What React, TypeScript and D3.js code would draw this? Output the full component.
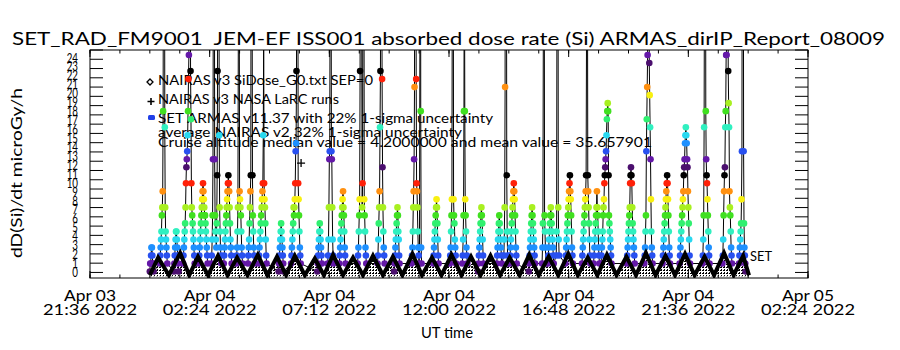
import * as d3 from 'd3';

// ---- chart data ----
const titleText = 'SET_RAD_FM9001  JEM-EF ISS001 absorbed dose rate (Si) ARMAS_dirIP_Report_08009';
const yAxisTitle = 'dD(Si)/dt microGy/h';
const xAxisTitle = 'UT time';

const xTickTimes = [
    '2022-04-03T21:36:00Z',
    '2022-04-04T02:24:00Z',
    '2022-04-04T07:12:00Z',
    '2022-04-04T12:00:00Z',
    '2022-04-04T16:48:00Z',
    '2022-04-04T21:36:00Z',
    '2022-04-05T02:24:00Z',
];
const yTickValues = [0, 1, 2, 3, 4, 5, 6, 7, 8, 9, 10, 11, 12, 13, 14, 15, 16, 17, 18, 19, 20, 21, 22, 23, 24];

const legendEntries = [
    'NAIRAS v3 SiDose_G0.txt SEP=0',
    'NAIRAS v3 NASA LaRC runs',
    'SET ARMAS v11.37 with 22% 1-sigma uncertainty',
    'average NAIRAS v2 32% 1-sigma uncertainty',
    'Cruise altitude median value = 4.2000000 and mean value = 35.657901',
];

// minutes after 2022-04-04 00:00 UT
const dataStart = '2022-04-04T00:00:00Z';

// NAIRAS v3 model: trough / peak vertices along the orbit
const nairasMinutes = [
    0, 20, 46, 73, 95, 116, 140, 164, 187, 210, 235, 260, 283, 306, 328, 349, 373, 397, 419, 441, 465,
    489, 513, 537, 561, 585, 608, 632, 655, 679, 702, 726, 750, 773, 796, 820, 843, 866, 890, 913, 936,
    960, 983, 1007, 1030, 1054, 1077, 1100, 1123, 1147, 1170, 1194, 1217, 1241, 1264, 1288, 1311, 1335,
    1358, 1382, 1405, 1428, 1442,
];
const nairasDose = [
    -0.3, 1.6, -0.3, 2.1, -0.3, 1.7, -0.3, 1.8, -0.3, 1.6, -0.3, 1.9, -0.3, 1.7, -0.3, 1.8, -0.3, 1.5, -0.3,
    1.9, -0.3, 1.6, -0.3, 1.8, -0.3, 1.7, -0.3, 2.0, -0.3, 1.6, -0.3, 1.9, -0.3, 1.7, -0.3, 1.8, -0.3, 1.6,
    -0.3, 1.9, -0.3, 1.7, -0.3, 2.0, -0.3, 1.6, -0.3, 1.9, -0.3, 1.7, -0.3, 2.1, -0.3, 1.8, -0.3, 2.0,
    -0.3, 1.7, -0.3, 2.1, -0.3, 1.8, -0.3,
];

// NAIRAS v3 NASA LaRC run
const larcMinutes = [364];
const larcDose = [11.8];

// SET ARMAS: quantised dose-rate levels at 1 min cadence, one row per pass
const doseFloor = 0.1;
const doseStep = 0.865;
const passStart = [
    0, 24, 58, 80, 118, 148, 178, 208, 236, 262, 310, 340, 403, 428, 456, 500, 548, 588, 630, 682, 722,
    752, 790, 835, 852, 866, 912, 944, 958, 978, 1000, 1040, 1068, 1086, 1148, 1190, 1234, 1275, 1330,
    1378, 1418,
];
const passLevels = [
    [0, 1, 1, 2, 3, 3, 2, 1, 1, 0],
    [1, 2, 3, 4, 5, 7, 8, 10, 20, 60, 150, 70, 18, 8, 5, 4, 3, 2, 1],
    [0, 1, 2, 3, 4, 5, 5, 4, 3, 2, 1, 0],
    [1, 2, 3, 4, 5, 6, 8, 11, 13, 14, 15, 17, 20, 24, 27, 60, 180, 90, 25, 19, 11, 8, 7, 6, 5, 4, 3, 2, 1],
    [1, 2, 3, 4, 5, 6, 7, 8, 9, 10, 11, 10, 9, 8, 7, 7, 6, 5, 4, 3, 2, 1],
    [1, 2, 4, 7, 14, 45, 130, 70, 14, 7, 5, 4, 3, 6, 12, 25, 80, 200, 60, 17, 8, 5, 3, 2, 1],
    [1, 2, 3, 4, 5, 6, 7, 8, 9, 10, 11, 12, 11, 10, 8, 6, 4, 3, 2, 1],
    [1, 2, 3, 5, 8, 30, 90, 40, 10, 9, 8, 7, 5, 3, 2, 1],
    [1, 2, 3, 4, 6, 8, 10, 12, 60, 150, 40, 12, 7, 5, 3, 2, 1],
    [1, 2, 3, 4, 5, 6, 7, 8, 9, 10, 11, 17, 30, 11, 9, 8, 6, 4, 2, 1],
    [0, 1, 2, 3, 4, 5, 6, 5, 4, 3, 2, 1, 0],
    [1, 2, 3, 4, 5, 6, 8, 7, 8, 9, 11, 15, 16, 25, 70, 180, 60, 11, 9, 7, 5, 3, 2, 1],
    [0, 1, 2, 3, 4, 5, 6, 5, 4, 3, 2, 1],
    [1, 2, 4, 8, 14, 15, 40, 120, 50, 15, 14, 8, 4, 2, 1],
    [1, 2, 3, 4, 5, 6, 7, 8, 9, 10, 8, 7, 5, 3, 2, 1],
    [1, 2, 3, 5, 7, 9, 25, 90, 200, 120, 30, 8, 11, 40, 150, 60, 9, 7, 5, 3, 2, 1],
    [1, 2, 4, 6, 8, 10, 18, 25, 60, 140, 40, 24, 13, 8, 5, 3, 2, 1],
    [0, 1, 2, 3, 4, 5, 6, 7, 8, 7, 5, 4, 2, 1],
    [1, 2, 3, 5, 8, 10, 14, 23, 80, 200, 90, 24, 11, 10, 8, 5, 3, 2, 1, 3, 30, 120, 20, 3, 1],
    [1, 2, 3, 4, 5, 6, 7, 8, 9, 8, 6, 4, 2, 1],
    [1, 2, 3, 5, 7, 9, 40, 150, 60, 9, 7, 6, 4, 3, 2, 1],
    [1, 2, 4, 7, 20, 50, 20, 9, 7, 5, 3, 2, 1],
    [0, 1, 2, 3, 4, 5, 6, 7, 8, 7, 6, 4, 2, 1],
    [1, 2, 3, 4, 5, 6, 7, 6, 5, 4, 3, 2, 1],
    [2, 4, 8, 23, 90, 200, 60, 12, 5, 2, 1],
    [1, 2, 3, 4, 5, 6, 7, 8, 9, 10, 11, 10, 9, 7, 5, 3, 2, 1],
    [0, 1, 2, 3, 4, 5, 6, 7, 8, 7, 6, 5, 4, 3, 2, 1],
    [1, 3, 6, 30, 120, 50, 7, 5, 3, 1],
    [1, 2, 3, 4, 5, 6, 7, 8, 7, 6, 5, 4, 3, 2, 1],
    [2, 5, 40, 160, 70, 8, 4, 2],
    [1, 2, 3, 4, 5, 6, 7, 8, 9, 10, 11, 12, 10, 9, 7, 5, 3, 2, 1],
    [1, 2, 3, 4, 5, 6, 7, 8, 9, 10, 12, 30, 110, 50, 12, 10, 8, 6, 4, 2, 1],
    [1, 2, 3, 4, 5, 6, 7, 8, 10, 8, 7, 5, 3, 2, 1],
    [1, 2, 3, 4, 5, 7, 8, 9, 11, 12, 13, 14, 15, 17, 19, 20, 21, 20, 12, 7, 6, 5, 4, 3, 2, 1],
    [1, 2, 3, 4, 5, 6, 7, 8, 11, 12, 13, 12, 11, 8, 6, 5, 4, 3, 2, 1],
    [1, 2, 3, 5, 7, 15, 19, 23, 27, 60, 130, 50, 26, 22, 18, 14, 9, 5, 3, 2, 1],
    [1, 2, 3, 4, 5, 6, 7, 8, 9, 10, 11, 12, 11, 9, 7, 5, 3, 2, 1],
    [1, 2, 3, 4, 5, 6, 7, 8, 9, 10, 12, 13, 14, 16, 17, 18, 17, 16, 14, 13, 10, 8, 6, 4, 2, 1],
    [1, 2, 4, 7, 18, 45, 150, 80, 20, 14, 12, 11, 9, 7, 5, 3, 2, 1],
    [1, 2, 4, 7, 10, 12, 13, 18, 20, 27, 27, 60, 160, 70, 25, 21, 18, 10, 8, 7, 5, 3, 2, 1],
    [1, 2, 3, 4, 5, 6, 9, 15, 60, 200, 80, 15, 6, 3, 2, 1, 0],
];

// IDL-like colour table, cycling every 13 levels
const levelColors = [
    '#4b0f6e', '#6418a8', '#2850f0', '#1e90ff', '#28d8f0', '#30f0c0', '#30f070',
    '#40e020', '#a8f020', '#f8f010', '#ff9010', '#ff2008', '#000000',
];

const FONT = "Lato, 'DejaVu Sans', sans-serif";

type Pt = { t: Date; dose: number; level?: number };

export default function App() {
    const width = 900;
    const height = 350;
    const left = 90;
    const right = 808;
    const top = 50;
    const bottom = 278;

    const x = d3
        .scaleUtc()
        .domain([new Date(xTickTimes[0]), new Date(xTickTimes[xTickTimes.length - 1])])
        .range([left, right]);
    const y = d3.scaleLinear().domain([-0.6, 24]).range([bottom, top]);
    // the IDL labels sit a little tighter than the ticks
    const yLabel = d3.scaleLinear().domain([0, 24]).range([272.5, 58]);

    const t0 = new Date(dataStart).getTime();
    const at = (m: number) => new Date(t0 + m * 60000);

    const armas: Pt[] = passStart.flatMap((s, i) =>
        passLevels[i].map((lv, j) => ({ t: at(s + j), level: lv, dose: doseFloor + doseStep * lv })),
    );
    const nairas: Pt[] = nairasMinutes.map((m, i) => ({ t: at(m), dose: nairasDose[i] }));
    const larc: Pt[] = larcMinutes.map((m, i) => ({ t: at(m), dose: larcDose[i] }));

    const line = d3
        .line<Pt>()
        .x((d) => x(d.t))
        .y((d) => y(d.dose));
    const area = d3
        .area<Pt>()
        .x((d) => x(d.t))
        .y0(y(-0.4))
        .y1((d) => y(d.dose));

    const majorTicks = xTickTimes.map((s) => new Date(s));
    const t1 = new Date(xTickTimes[0]).getTime();
    const minorTicks = d3.range(0, 25).map((k) => new Date(t1 + k * 72 * 60000));
    const fmtDay = d3.utcFormat('%b %d');
    const fmtTime = d3.utcFormat('%H:%M %Y');

    const legendBaselines = [85, 104, 123, 137, 147];
    const legendLengths = [215, 181, 335, 304, 494];

    return (
        <svg
            width={width}
            height={height}
            style={{ position: 'absolute', left: 0, top: 0, background: '#fff' }}
            fontFamily={FONT}
            fontWeight={400}
        >
            <rect x={0} y={0} width={width} height={height} fill="#fff" />
            <defs>
                <clipPath id="plot">
                    <rect x={left} y={top} width={right - left} height={bottom - top} />
                </clipPath>
                <pattern id="speckle" width={3} height={3} patternUnits="userSpaceOnUse">
                    <rect width={3} height={3} fill="#fff" />
                    <rect x={0} y={0} width={2} height={1} fill="#000" />
                    <rect x={1} y={2} width={1} height={1} fill="#000" />
                </pattern>
            </defs>

            <text
                x={12}
                y={45}
                fontSize={18}
                textLength={873}
                lengthAdjust="spacingAndGlyphs"
                style={{ whiteSpace: 'pre' }}
            >
                {titleText}
            </text>

            {/* legend (drawn under the data, like the original) */}
            <g fontSize={13.5}>
                {legendEntries.map((s, i) => (
                    <text
                        key={s}
                        x={158}
                        y={legendBaselines[i]}
                        textLength={legendLengths[i]}
                        lengthAdjust="spacingAndGlyphs"
                    >
                        {s}
                    </text>
                ))}
                <path d="M150,79 l3,3 l-3,3 l-3,-3 Z" fill="none" stroke="#000" strokeWidth={1.3} />
                <path d="M151,98 v7 M147.5,101.5 h7" stroke="#000" strokeWidth={1.6} />
                <rect x={148} y={115} width={7} height={5} rx={1.5} fill="#2040e8" />
            </g>

            {/* data */}
            <g clipPath="url(#plot)">
                <path d={area(nairas) ?? ''} fill="url(#speckle)" />
                <path d={line(armas) ?? ''} fill="none" stroke="#000" strokeWidth={1} />
                {armas.map((d, i) =>
                    d.dose <= 24.5 ? (
                        <circle
                            key={i}
                            cx={x(d.t)}
                            cy={y(d.dose)}
                            r={3.3}
                            fill={levelColors[(d.level ?? 0) % levelColors.length]}
                        />
                    ) : null,
                )}
                <path
                    d={line(nairas) ?? ''}
                    fill="none"
                    stroke="#000"
                    strokeWidth={4}
                    strokeLinejoin="miter"
                />
                {larc.map((d, i) => (
                    <path
                        key={i}
                        d={`M${x(d.t) - 4},${y(d.dose)} h8 M${x(d.t)},${y(d.dose) - 4} v8`}
                        stroke="#000"
                        strokeWidth={1.3}
                    />
                ))}
            </g>

            {/* frame */}
            <rect x={left} y={top} width={right - left} height={bottom - top} fill="none" stroke="#000" strokeWidth={1} />

            {/* y ticks both sides */}
            {yTickValues.map((v) => (
                <g key={v}>
                    <line x1={left} x2={left + 13} y1={y(v)} y2={y(v)} stroke="#000" />
                    <line x1={right - 13} x2={right} y1={y(v)} y2={y(v)} stroke="#000" />
                    <text
                        transform={`translate(78,${yLabel(v) + 4.5}) scale(0.75,1)`}
                        textAnchor="end"
                        fontSize={13}
                    >
                        {v}
                    </text>
                </g>
            ))}

            {/* x ticks top and bottom */}
            {minorTicks.map((d, i) => (
                <g key={i}>
                    <line x1={x(d)} x2={x(d)} y1={bottom} y2={bottom - 3.5} stroke="#000" />
                    <line x1={x(d)} x2={x(d)} y1={top} y2={top + 3.5} stroke="#000" />
                </g>
            ))}
            {majorTicks.map((d, i) => (
                <g key={i}>
                    <line x1={x(d)} x2={x(d)} y1={bottom} y2={bottom - 7} stroke="#000" />
                    <line x1={x(d)} x2={x(d)} y1={top} y2={top + 7} stroke="#000" />
                    <text
                        x={x(d) - 26}
                        y={301}
                        fontSize={15}
                        textLength={52}
                        lengthAdjust="spacingAndGlyphs"
                    >
                        {fmtDay(d)}
                    </text>
                    <text
                        x={x(d) - 47}
                        y={315}
                        fontSize={15}
                        textLength={94}
                        lengthAdjust="spacingAndGlyphs"
                    >
                        {fmtTime(d)}
                    </text>
                </g>
            ))}

            <text x={421} y={338} fontSize={15} textLength={52} lengthAdjust="spacingAndGlyphs">
                {xAxisTitle}
            </text>
            <text
                transform="translate(22,173) rotate(-90)"
                textAnchor="middle"
                fontSize={16}
                textLength={170}
                lengthAdjust="spacingAndGlyphs"
            >
                {yAxisTitle}
            </text>
            <text x={750} y={261} fontSize={13} textLength={22} lengthAdjust="spacingAndGlyphs">
                SET
            </text>
        </svg>
    );
}
